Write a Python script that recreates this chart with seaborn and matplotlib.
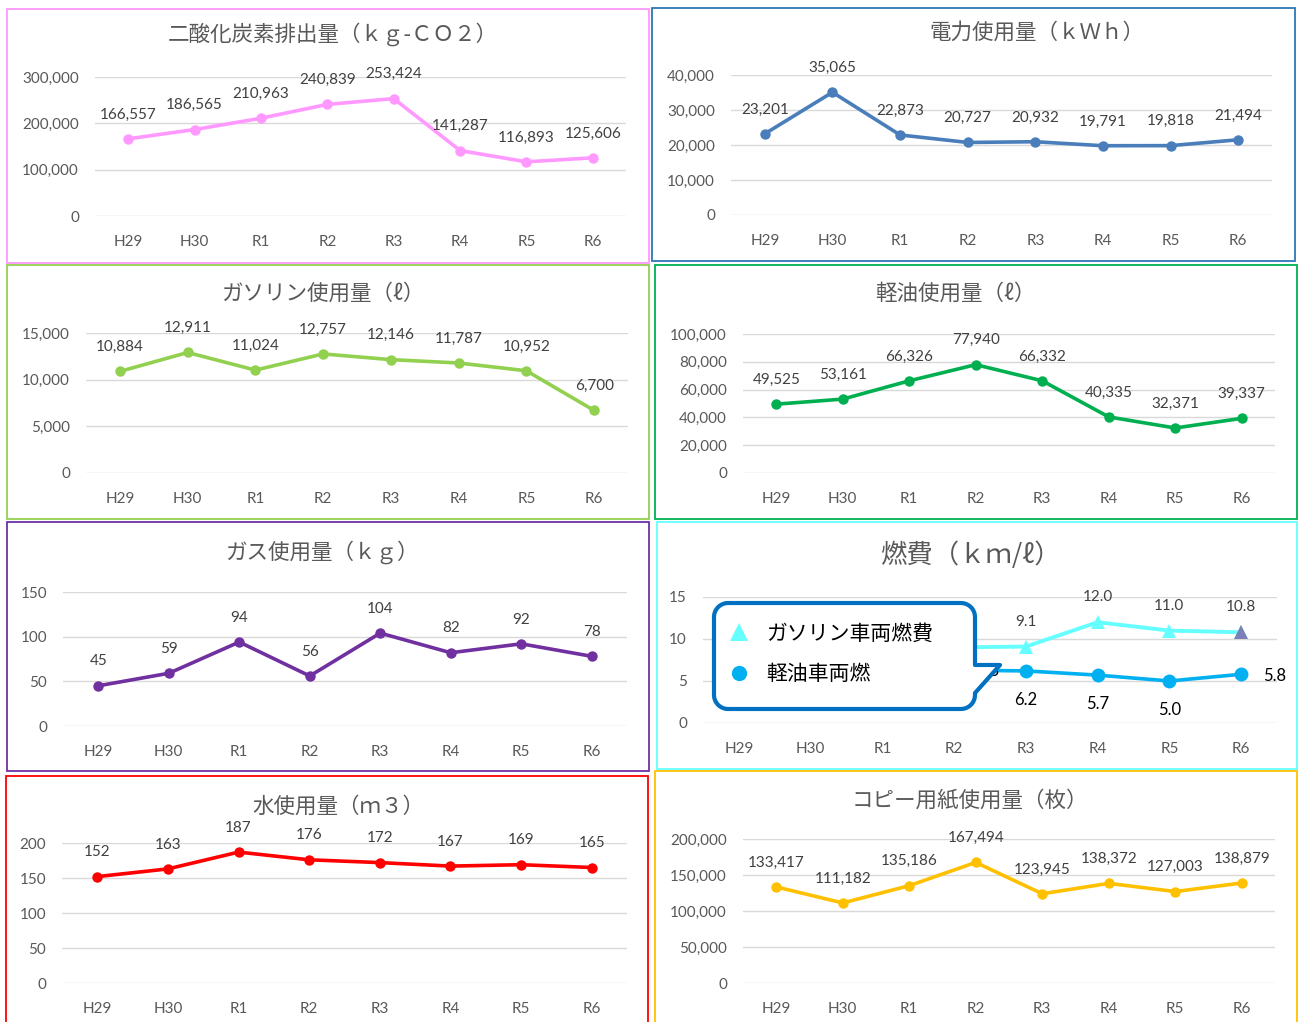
import numpy as np
import pandas as pd
import seaborn as sns
from matplotlib import pyplot as plt
import matplotlib.patches as mpatches
import matplotlib.ticker as ticker

# DATA
years = ['H29', 'H30', 'R1', 'R2', 'R3', 'R4', 'R5', 'R6']

co2 = [166557, 186565, 210963, 240839, 253424, 141287, 116893, 125606]
denki = [23201, 35065, 22873, 20727, 20932, 19791, 19818, 21494]
gasoline = [10884, 12911, 11024, 12757, 12146, 11787, 10952, 6700]
keiyu = [49525, 53161, 66326, 77940, 66332, 40335, 32371, 39337]
gas = [45, 59, 94, 56, 104, 82, 92, 78]
water = [152, 163, 187, 176, 172, 167, 169, 165]
copy_paper = [133417, 111182, 135186, 167494, 123945, 138372, 127003, 138879]
# fuel economy (first values are hidden behind the callout in the original)
nenpi_gasoline = [9.5, 9.2, 9.3, 9.0, 9.1, 12.0, 11.0, 10.8]
nenpi_keiyu = [6.5, 6.8, 6.4, 6.3, 6.2, 5.7, 5.0, 5.8]

W, H = 1298, 1022
sns.set_style('white')
plt.rcParams['font.family'] = ['Lato', 'Noto Sans CJK JP', 'DejaVu Sans']
JP = ['Noto Sans CJK JP', 'DejaVu Sans']

fig = plt.figure(figsize=(W / 100, H / 100), dpi=100)
fig.patch.set_facecolor('white')

GRAY = '#595959'
LBL = '#404040'


def px_rect(l, t, r, b):
    return [l / W, 1 - b / H, (r - l) / W, (b - t) / H]


def border(l, t, r, b, color):
    fig.add_artist(mpatches.Rectangle((l / W, 1 - b / H), (r - l) / W, (b - t) / H,
                                      transform=fig.transFigure, fill=False,
                                      edgecolor=color, lw=1.3, zorder=0))


def make_ax(l, r, ytop, ybot, ymax, step, title, tx, ty, tsize=15.5):
    ax = fig.add_axes(px_rect(l, ytop, r, ybot))
    ax.set_xlim(-0.5, 7.5)
    ax.set_ylim(0, ymax)
    ax.set_yticks(np.arange(0, ymax + 1, step))
    ax.yaxis.set_major_formatter(ticker.FuncFormatter(lambda y, _: '{:,}'.format(int(y))))
    ax.set_xticks(range(len(years)))
    ax.set_xticklabels(years)
    ax.grid(axis='y', color='#D9D9D9', lw=1)
    ax.grid(axis='x', visible=False)
    for s in ax.spines.values():
        s.set_visible(False)
    ax.tick_params(axis='y', length=0, labelsize=11, colors=GRAY, pad=11.5)
    ax.tick_params(axis='x', length=0, labelsize=11, colors=GRAY, pad=13.5)
    fig.text(tx / W, 1 - ty / H, title, ha='center', va='center', fontsize=tsize,
             color=GRAY, family=JP)
    return ax


def draw_line(ax, vals, color, fmt='{:,}', lw=2.6, ms=7.5, marker='o', offset=17.5):
    df = pd.DataFrame({'x': range(len(years)), 'y': vals})
    sns.lineplot(data=df, x='x', y='y', ax=ax, color=color, lw=lw, marker=marker,
                 markersize=ms, markeredgewidth=0, sort=False, clip_on=False)
    for i, v in enumerate(vals):
        ax.annotate(fmt.format(v), (i, v), xytext=(0, offset), textcoords='offset points',
                    ha='center', va='center', fontsize=11, color=LBL)
    ax.set_xlabel('')
    ax.set_ylabel('')
    ax.set_xticks(range(len(years)))
    ax.set_xticklabels(years)


# borders
border(7, 9, 649, 263, '#FF99FF')
border(652, 8, 1295, 261, '#2E75B6')
border(7, 265, 649, 519, '#92D050')
border(655, 265, 1297, 519, '#00B050')
border(7, 522, 649, 771, '#7030A0')
border(657, 522, 1297, 769, '#66FFFF')
border(6, 776, 648, 1030, '#FF0000')
border(655, 771, 1297, 1030, '#FFC000')

# CO2
ax = make_ax(95, 626, 77, 216, 300000, 100000, '二酸化炭素排出量（ｋｇ-ＣＯ２）', 333, 34)
draw_line(ax, co2, '#FF99FF')

# electricity
ax = make_ax(731, 1272, 75, 215, 40000, 10000, '電力使用量（ｋＷｈ）', 1037, 33)
draw_line(ax, denki, '#4A7EBB')

# gasoline
ax = make_ax(86, 628, 333, 473, 15000, 5000, 'ガソリン使用量（ℓ）', 323, 294)
draw_line(ax, gasoline, '#92D050')

# diesel
ax = make_ax(743, 1275, 334, 473, 100000, 20000, '軽油使用量（ℓ）', 955, 294)
draw_line(ax, keiyu, '#00B050')

# gas
ax = make_ax(63, 627, 592, 726, 150, 50, 'ガス使用量（ｋｇ）', 322, 552)
draw_line(ax, gas, '#7030A0')

# water
ax = make_ax(62, 627, 843, 983, 200, 50, '水使用量（ｍ３）', 338, 807)
draw_line(ax, water, '#FF0000')

# copy paper
ax = make_ax(743, 1275, 839, 983, 200000, 50000, 'コピー用紙使用量（枚）', 970, 801)
draw_line(ax, copy_paper, '#FFC000')

# fuel economy
ax = make_ax(703, 1277, 597, 723, 15, 5, '燃費（ｋｍ/ℓ）', 970, 555, tsize=19)
df_g = pd.DataFrame({'x': range(len(years)), 'y': nenpi_gasoline})
df_k = pd.DataFrame({'x': range(len(years)), 'y': nenpi_keiyu})
sns.lineplot(data=df_g, x='x', y='y', ax=ax, color='#66FFFF', lw=2.8, marker='^',
             markersize=10, markeredgewidth=0, sort=False)
sns.lineplot(data=df_k, x='x', y='y', ax=ax, color='#00B0F0', lw=2.6, marker='o',
             markersize=10, markeredgewidth=0, sort=False)
ax.plot([7], [nenpi_gasoline[7]], marker='^', ms=10, color='#7B80B8', mew=0)
# labels of the first points are covered by the callout box
for i, v in enumerate(nenpi_gasoline):
    if i < 4:
        continue
    ax.annotate('{:.1f}'.format(v), (i, v), xytext=(0, 18), textcoords='offset points',
                ha='center', va='center', fontsize=11, color=LBL)
for i, v in enumerate(nenpi_keiyu):
    if i < 3:
        continue
    if i in (3, 7):
        xy = (24, -1)
    else:
        xy = (0, -21)
    ax.annotate('{:.1f}'.format(v), (i, v), xytext=xy, textcoords='offset points',
                ha='center', va='center', fontsize=12, color='black')
ax.set_xlabel('')
ax.set_ylabel('')
ax.set_xticks(range(len(years)))
ax.set_xticklabels(years)

# callout legend box
L, T, R, B, r = 714, 603, 975, 709, 14
pts = []
for cx, cy, a0, a1 in [(L + r, T + r, 180, 270), (R - r, T + r, 270, 360)]:
    for a in np.linspace(np.radians(a0), np.radians(a1), 10):
        pts.append((cx + r * np.cos(a), cy + r * np.sin(a)))
pts += [(R, 665), (1000, 665), (R, 693)]
for cx, cy, a0, a1 in [(R - r, B - r, 0, 90), (L + r, B - r, 90, 180)]:
    for a in np.linspace(np.radians(a0), np.radians(a1), 10):
        pts.append((cx + r * np.cos(a), cy + r * np.sin(a)))
pts = [(x / W, 1 - y / H) for x, y in pts]
fig.add_artist(mpatches.Polygon(pts, closed=True, transform=fig.transFigure,
                                facecolor='white', edgecolor='#0070C0', lw=3,
                                joinstyle='round', zorder=5))
fig.add_artist(plt.Line2D([739 / W], [1 - 632 / H], marker='^', ms=13, color='#66FFFF',
                          mew=0, transform=fig.transFigure, zorder=6))
fig.add_artist(plt.Line2D([739 / W], [1 - 673 / H], marker='o', ms=11, color='#00B0F0',
                          mew=0, transform=fig.transFigure, zorder=6))
fig.text(766 / W, 1 - 634 / H, 'ガソリン車両燃費', ha='left', va='center', fontsize=15,
         color='black', family=JP, zorder=6)
fig.text(766 / W, 1 - 674 / H, '軽油車両燃', ha='left', va='center', fontsize=15,
         color='black', family=JP, zorder=6)

fig.savefig('out.png', dpi=100)
plt.close()
